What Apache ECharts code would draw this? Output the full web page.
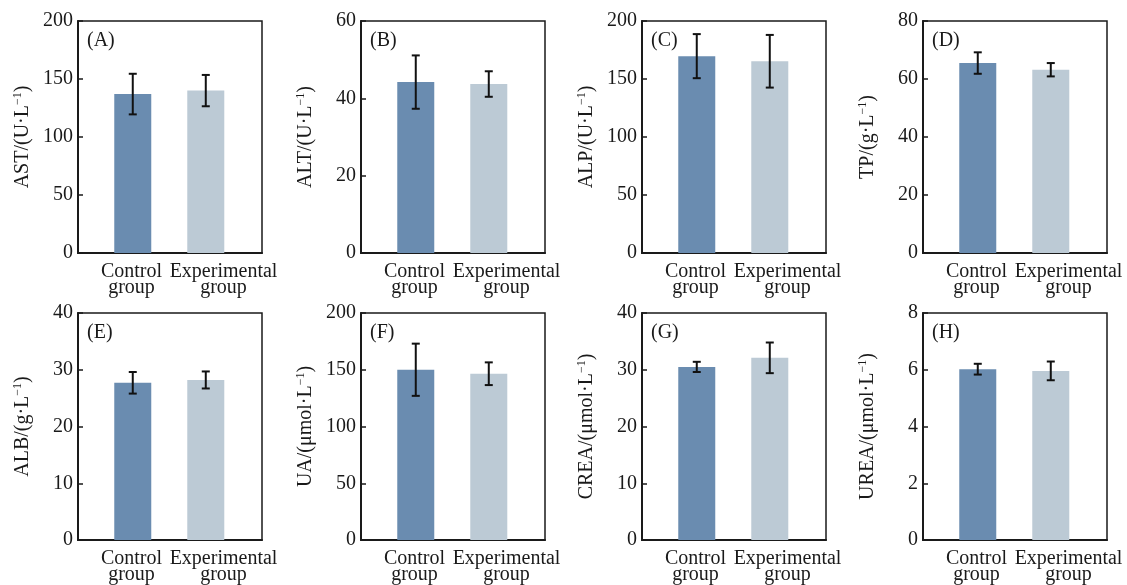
<!DOCTYPE html>
<html>
<head>
<meta charset="utf-8">
<script src="https://cdn.jsdelivr.net/npm/echarts@6/dist/echarts.min.js"></script>
<style>
html,body{margin:0;padding:0;background:#fff;}
#chart{width:1127px;height:585px;}
</style>
</head>
<body>
<div id="chart"></div>
<script>
// ---- data ----
const categories = ['Control group', 'Experimental group'];
const panelLabels = ['(A)', '(B)', '(C)', '(D)', '(E)', '(F)', '(G)', '(H)'];
const metrics = ['AST', 'ALT', 'ALP', 'TP', 'ALB', 'UA', 'CREA', 'UREA'];
const units = ['U·L', 'U·L', 'U·L', 'g·L', 'g·L', 'μmol·L', 'μmol·L', 'μmol·L'];
const controlMean = [137, 44.2, 169.7, 65.5, 27.7, 150, 30.5, 6.02];
const controlSD = [17.5, 6.9, 19, 3.7, 1.9, 23, 0.9, 0.19];
const expMean = [140, 43.7, 165.3, 63.2, 28.2, 146.5, 32.1, 5.96];
const expSD = [13.5, 3.3, 22.7, 2.3, 1.5, 10, 2.7, 0.33];
const yMax = [200, 60, 200, 80, 40, 200, 40, 8];
const yInterval = [50, 20, 50, 20, 10, 50, 10, 2];

// ---- layout / style ----
const FONT = '"Liberation Serif", "Times New Roman", serif';
const INK = '#1a1a1a';
const barColors = ['#6a8cb0', '#bccad5'];
const colLeft = [78, 361, 642, 923];
const rowTop = [21, 313];
const gridW = 184, gridH = 232;

const chart = echarts.init(document.getElementById('chart'), null, {renderer: 'canvas'});

const grid = [], xAxis = [], yAxis = [], series = [], graphic = [];

for (let i = 0; i < 8; i++) {
  const left = colLeft[i % 4], top = rowTop[Math.floor(i / 4)];
  grid.push({left: left, top: top, width: gridW, height: gridH, show: true,
    borderColor: INK, borderWidth: 1.5, containLabel: false});
  // value x axis for bars
  xAxis.push({type: 'value', gridIndex: i, min: -0.75, max: 1.77,
    axisLine: {show: false, onZero: false}, axisTick: {show: false}, axisLabel: {show: false}, splitLine: {show: false}});
  // category x axis for labels
  xAxis.push({type: 'category', gridIndex: i, data: categories, position: 'bottom',
    axisLine: {show: true, onZero: false, lineStyle: {color: INK, width: 2}}, axisTick: {show: false},
    axisLabel: {interval: 0, color: INK, fontFamily: FONT, fontSize: 20, lineHeight: 16,
      margin: 11, padding: [0, 0, 0, 15],
      formatter: v => v.replace(' ', '\n')}});
  yAxis.push({type: 'value', gridIndex: i, min: 0, max: yMax[i], interval: yInterval[i],
    axisLine: {show: true, onZero: false, lineStyle: {color: INK, width: 2}},
    axisTick: {show: true, inside: true, length: 5, lineStyle: {color: INK, width: 1.5}},
    splitLine: {show: false},
    axisLabel: {color: INK, fontFamily: FONT, fontSize: 20, margin: 5},
    name: '{t|' + metrics[i] + '/(' + units[i] + '}{s|−1}{t|)}',
    nameLocation: 'middle', nameGap: 44,
    nameTextStyle: {rich: {
      t: {fontFamily: FONT, fontSize: 20, color: INK, lineHeight: 22},
      s: {fontFamily: FONT, fontSize: 12, color: INK, verticalAlign: 'top', lineHeight: 12}
    }}});
  const means = [controlMean[i], expMean[i]];
  const sds = [controlSD[i], expSD[i]];
  series.push({type: 'bar', xAxisIndex: 2 * i, yAxisIndex: i, barWidth: 37,
    data: means.map((m, k) => ({value: [k, m], itemStyle: {color: barColors[k]}})),
    z: 2});
  series.push({type: 'custom', xAxisIndex: 2 * i, yAxisIndex: i, z: 5,
    data: means.map((m, k) => [k, m - sds[k], m + sds[k]]),
    encode: {x: 0, y: [1, 2]},
    renderItem: function (params, api) {
      const x = api.value(0);
      const pLo = api.coord([x, api.value(1)]);
      const pHi = api.coord([x, api.value(2)]);
      const hw = 4;
      const st = {stroke: '#111', lineWidth: 2};
      return {type: 'group', children: [
        {type: 'line', shape: {x1: pLo[0], y1: pLo[1], x2: pHi[0], y2: pHi[1]}, style: st},
        {type: 'line', shape: {x1: pHi[0] - hw, y1: pHi[1], x2: pHi[0] + hw, y2: pHi[1]}, style: st},
        {type: 'line', shape: {x1: pLo[0] - hw, y1: pLo[1], x2: pLo[0] + hw, y2: pLo[1]}, style: st}
      ]};
    }});
  graphic.push({type: 'text', left: left + 9, top: top + 10, z: 10,
    style: {text: panelLabels[i], font: '20px ' + FONT, fill: INK}});
}

chart.setOption({
  animation: false,
  backgroundColor: '#fff',
  grid: grid, xAxis: xAxis, yAxis: yAxis, series: series, graphic: graphic
});
</script>
</body>
</html>
